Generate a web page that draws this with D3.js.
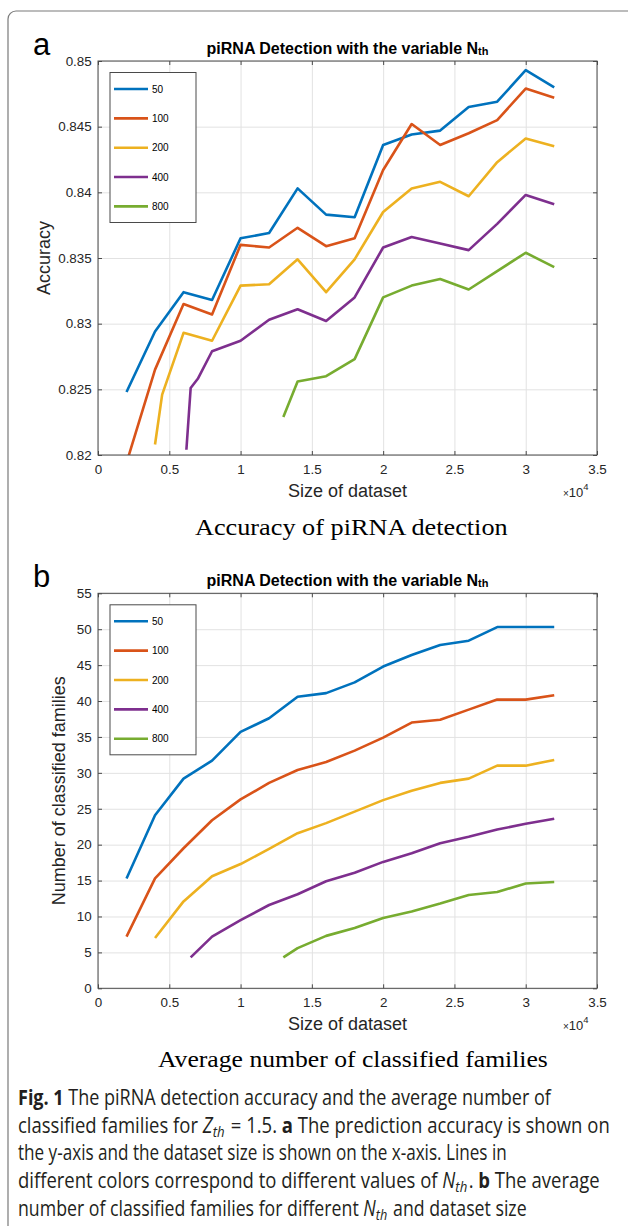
<!DOCTYPE html>
<html>
<head>
<meta charset="utf-8">
<script src="https://cdn.jsdelivr.net/npm/d3@7"></script>
<style>
  body { margin: 0; background: #fff; }
  svg { display: block; }
</style>
</head>
<body>
<svg id="fig" width="628" height="1226"></svg>
<script>
// ---- dados ----
var legendas = ["50", "100", "200", "400", "800"];
var cores = ["#0072BD", "#D95319", "#EDB120", "#7E2F8E", "#77AC30"];

var xTicks = [0, 0.5, 1, 1.5, 2, 2.5, 3, 3.5];
var xTickLabels = ["0", "0.5", "1", "1.5", "2", "2.5", "3", "3.5"];

// painel a: acuracia
var accTicks = [0.82, 0.825, 0.83, 0.835, 0.84, 0.845, 0.85];
var accTickLabels = ["0.82", "0.825", "0.83", "0.835", "0.84", "0.845", "0.85"];
var accX50 = [0.2, 0.4, 0.6, 0.8, 1.0, 1.2, 1.4, 1.6, 1.8, 2.0, 2.2, 2.4, 2.6, 2.8, 3.0, 3.2];
var acc50 = [0.8248, 0.8294, 0.8324, 0.8318, 0.8365, 0.8369, 0.8403, 0.8383, 0.8381, 0.8436, 0.8444, 0.8447, 0.8465, 0.8469, 0.8493, 0.8480];
var accX100 = [0.2, 0.4, 0.6, 0.8, 1.0, 1.2, 1.4, 1.6, 1.8, 2.0, 2.2, 2.4, 2.6, 2.8, 3.0, 3.2];
var acc100 = [0.8194, 0.8265, 0.8315, 0.8307, 0.8360, 0.8358, 0.8373, 0.8359, 0.8365, 0.8417, 0.8452, 0.8436, 0.8445, 0.8455, 0.8479, 0.8472];
var accX200 = [0.4, 0.45, 0.6, 0.8, 1.0, 1.2, 1.4, 1.6, 1.8, 2.0, 2.2, 2.4, 2.6, 2.8, 3.0, 3.2];
var acc200 = [0.8208, 0.8246, 0.8293, 0.8287, 0.8329, 0.8330, 0.8349, 0.8324, 0.8349, 0.8385, 0.8403, 0.8408, 0.8397, 0.8423, 0.8441, 0.8435];
var accX400 = [0.62, 0.65, 0.7, 0.8, 1.0, 1.2, 1.4, 1.6, 1.8, 2.0, 2.2, 2.4, 2.6, 2.8, 3.0, 3.2];
var acc400 = [0.8204, 0.8251, 0.8258, 0.8279, 0.8287, 0.8303, 0.8311, 0.8302, 0.8320, 0.8358, 0.8366, 0.8361, 0.8356, 0.8376, 0.8398, 0.8391];
var accX800 = [1.3, 1.4, 1.6, 1.8, 2.0, 2.2, 2.4, 2.6, 2.8, 3.0, 3.2];
var acc800 = [0.8229, 0.8256, 0.8260, 0.8273, 0.8320, 0.8329, 0.8334, 0.8326, 0.8340, 0.8354, 0.8343];

// painel b: familias classificadas
var famTicks = [0, 5, 10, 15, 20, 25, 30, 35, 40, 45, 50, 55];
var famTickLabels = ["0", "5", "10", "15", "20", "25", "30", "35", "40", "45", "50", "55"];
var famX50 = [0.2, 0.4, 0.6, 0.8, 1.0, 1.2, 1.4, 1.6, 1.8, 2.0, 2.2, 2.4, 2.6, 2.8, 3.0, 3.2];
var fam50 = [15.3, 24.1, 29.2, 31.7, 35.7, 37.6, 40.6, 41.1, 42.6, 44.8, 46.4, 47.8, 48.4, 50.3, 50.3, 50.3];
var famX100 = [0.2, 0.4, 0.6, 0.8, 1.0, 1.2, 1.4, 1.6, 1.8, 2.0, 2.2, 2.4, 2.6, 2.8, 3.0, 3.2];
var fam100 = [7.2, 15.3, 19.5, 23.4, 26.3, 28.6, 30.4, 31.5, 33.1, 34.9, 37.0, 37.4, 38.8, 40.2, 40.2, 40.8];
var famX200 = [0.4, 0.6, 0.8, 1.0, 1.2, 1.4, 1.6, 1.8, 2.0, 2.2, 2.4, 2.6, 2.8, 3.0, 3.2];
var fam200 = [7.0, 12.1, 15.6, 17.3, 19.4, 21.6, 23.0, 24.6, 26.2, 27.5, 28.6, 29.2, 31.0, 31.0, 31.8];
var famX400 = [0.65, 0.8, 1.0, 1.2, 1.4, 1.6, 1.8, 2.0, 2.2, 2.4, 2.6, 2.8, 3.0, 3.2];
var fam400 = [4.3, 7.2, 9.5, 11.6, 13.1, 14.9, 16.1, 17.6, 18.8, 20.2, 21.1, 22.1, 22.9, 23.6];
var famX800 = [1.3, 1.4, 1.6, 1.8, 2.0, 2.2, 2.4, 2.6, 2.8, 3.0, 3.2];
var fam800 = [4.3, 5.6, 7.3, 8.4, 9.8, 10.7, 11.8, 13.0, 13.4, 14.6, 14.8];

var svg = d3.select("#fig");
var fonte = "'Liberation Sans', Arial, Helvetica, sans-serif";
var corEixo = "#4a4a4a";
var corTexto = "#262626";

// moldura da figura
svg.append("path")
  .attr("d", "M8,1232 V19 A8,8 0 0 1 16,11 H640")
  .attr("fill", "none").attr("stroke", "#7a7a7a").attr("stroke-width", 1.2);

// estica um texto na horizontal ate a largura pedida
function ajustarLargura(sel, x, y, largura) {
  var w = sel.node().getBBox().width;
  var k = largura / w;
  sel.attr("x", 0).attr("y", 0)
    .attr("transform", "translate(" + x + "," + y + ") scale(" + k + ",1)");
}

function painel(cfg) {
  var esq = 98, dir = 597;
  var x = d3.scaleLinear().domain([0, 3.5]).range([esq, dir]);
  var y = d3.scaleLinear().domain([cfg.yTicks[0], cfg.yTicks[cfg.yTicks.length - 1]]).range([cfg.baixo, cfg.topo]);
  var alt = cfg.baixo - cfg.topo;
  var g = svg.append("g");

  // grade
  g.append("g").attr("transform", "translate(0," + cfg.baixo + ")")
    .call(d3.axisBottom(x).tickValues(xTicks).tickSize(-alt).tickFormat(""))
    .call(function(s) { s.select(".domain").remove(); })
    .selectAll("line").attr("stroke", "#e2e2e2").attr("stroke-width", 1);
  g.append("g").attr("transform", "translate(" + esq + ",0)")
    .call(d3.axisLeft(y).tickValues(cfg.yTicks).tickSize(-(dir - esq)).tickFormat(""))
    .call(function(s) { s.select(".domain").remove(); })
    .selectAll("line").attr("stroke", "#e2e2e2").attr("stroke-width", 1);

  // linhas
  var clipId = "clip" + cfg.id;
  svg.append("clipPath").attr("id", clipId).append("rect")
    .attr("x", esq).attr("y", cfg.topo).attr("width", dir - esq).attr("height", alt);
  var linha = d3.line().x(function(d) { return x(d[0]); }).y(function(d) { return y(d[1]); });
  cfg.series.forEach(function(s, i) {
    g.append("path")
      .datum(d3.zip(s[0], s[1]))
      .attr("clip-path", "url(#" + clipId + ")")
      .attr("d", linha)
      .attr("fill", "none")
      .attr("stroke", cores[i])
      .attr("stroke-width", 2.6)
      .attr("stroke-linejoin", "round");
  });

  // caixa
  g.append("rect").attr("x", esq).attr("y", cfg.topo).attr("width", dir - esq).attr("height", alt)
    .attr("fill", "none").attr("stroke", corEixo).attr("stroke-width", 1);

  // eixos (ticks para dentro)
  var eixoX = g.append("g").attr("transform", "translate(0," + cfg.baixo + ")")
    .call(d3.axisBottom(x).tickValues(xTicks).tickSize(-4).tickPadding(9.5)
      .tickFormat(function(d, i) { return xTickLabels[i]; }));
  var eixoXTopo = g.append("g").attr("transform", "translate(0," + cfg.topo + ")")
    .call(d3.axisTop(x).tickValues(xTicks).tickSize(-4).tickFormat(""));
  var eixoY = g.append("g").attr("transform", "translate(" + esq + ",0)")
    .call(d3.axisLeft(y).tickValues(cfg.yTicks).tickSize(-4).tickPadding(6.3)
      .tickFormat(function(d, i) { return cfg.yTickLabels[i]; }));
  var eixoYDir = g.append("g").attr("transform", "translate(" + dir + ",0)")
    .call(d3.axisRight(y).tickValues(cfg.yTicks).tickSize(-4).tickFormat(""));
  [eixoX, eixoXTopo, eixoY, eixoYDir].forEach(function(e) {
    e.select(".domain").remove();
    e.selectAll("line").attr("stroke", corEixo);
    e.selectAll("text").attr("font-family", fonte).attr("font-size", 13.4).attr("fill", corTexto);
  });

  // titulo
  var t = g.append("text").attr("x", (esq + dir) / 2).attr("y", cfg.topo - 7.5)
    .attr("text-anchor", "middle").attr("font-family", fonte).attr("font-weight", "bold")
    .attr("font-size", 16).attr("fill", "#000");
  t.append("tspan").text("piRNA Detection with the variable N");
  t.append("tspan").attr("font-size", 11).attr("dy", 1).text("th");

  // rotulo do painel
  g.append("text").attr("x", 33).attr("y", cfg.topo - 6).attr("font-family", fonte)
    .attr("font-size", 31).attr("fill", "#000").text(cfg.letra);

  // rotulos dos eixos
  g.append("text").attr("x", (esq + dir) / 2).attr("y", cfg.baixo + 42)
    .attr("text-anchor", "middle").attr("font-family", fonte).attr("font-size", 18)
    .attr("fill", corTexto).text("Size of dataset");
  g.append("text").attr("transform", "translate(" + cfg.yLabelX + "," + (cfg.topo + alt / 2) + ") rotate(-90)")
    .attr("text-anchor", "middle").attr("font-family", fonte).attr("font-size", 18)
    .attr("fill", corTexto).text(cfg.yLabel);
  var m = g.append("text").attr("x", 563).attr("y", cfg.baixo + 41.5)
    .attr("font-family", fonte).attr("fill", corTexto);
  m.append("tspan").attr("font-size", 10).text("\u00d7");
  m.append("tspan").attr("font-size", 13).text("10");
  m.append("tspan").attr("font-size", 9.5).attr("dy", -7).text("4");

  // subtitulo em serifa
  var sub = g.append("text")
    .attr("font-family", "'Liberation Serif', 'DejaVu Serif', serif").attr("font-size", 23.5)
    .attr("fill", "#000").text(cfg.subtitulo);
  ajustarLargura(sub, cfg.subX, cfg.baixo + cfg.subDy, cfg.subW);

  // legenda
  var lt = cfg.topo + 11.5;
  var leg = g.append("g");
  leg.append("rect").attr("x", 110).attr("y", lt).attr("width", 86).attr("height", 150)
    .attr("fill", "#fff").attr("stroke", corEixo).attr("stroke-width", 1);
  legendas.forEach(function(nome, i) {
    var yy = lt + 16.5 + i * 29.35;
    leg.append("line").attr("x1", 114).attr("x2", 148).attr("y1", yy).attr("y2", yy)
      .attr("stroke", cores[i]).attr("stroke-width", 2.6);
    leg.append("text").attr("x", 152).attr("y", yy).attr("dy", "0.35em")
      .attr("font-family", fonte).attr("font-size", 10).attr("fill", "#000").text(nome);
  });
}

painel({
  id: "a", letra: "a", topo: 61, baixo: 455,
  yTicks: accTicks, yTickLabels: accTickLabels,
  yLabel: "Accuracy", yLabelX: 50,
  subtitulo: "Accuracy of piRNA detection", subX: 195, subW: 313, subDy: 80,
  series: [[accX50, acc50], [accX100, acc100], [accX200, acc200], [accX400, acc400], [accX800, acc800]]
});

painel({
  id: "b", letra: "b", topo: 593.3, baixo: 988.3,
  yTicks: famTicks, yTickLabels: famTickLabels,
  yLabel: "Number of classified families", yLabelX: 65,
  subtitulo: "Average number of classified families", subX: 158, subW: 390, subDy: 79,
  series: [[famX50, fam50], [famX100, fam100], [famX200, fam200], [famX400, fam400], [famX800, fam800]]
});

// legenda da figura
var capFonte = "'Open Sans', 'Noto Sans', sans-serif";
var linhasCap = [
  { y: 1105, w: 535, partes: [["b", "Fig. 1"], ["n", " The piRNA detection accuracy and the average number of"]] },
  { y: 1132.7, w: 592, partes: [["n", "classified families for "], ["i", "Z"], ["s", "th"], ["n", " = 1.5. "], ["b", "a"], ["n", " The prediction accuracy is shown on"]] },
  { y: 1160.4, w: 489, partes: [["n", "the y-axis and the dataset size is shown on the x-axis. Lines in"]] },
  { y: 1188.1, w: 582, partes: [["n", "different colors correspond to different values of "], ["i", "N"], ["s", "th"], ["n", ". "], ["b", "b"], ["n", " The average"]] },
  { y: 1215.8, w: 509, partes: [["n", "number of classified families for different "], ["i", "N"], ["s", "th"], ["n", " and dataset size"]] }
];
linhasCap.forEach(function(l) {
  var t = svg.append("text")
    .attr("font-family", capFonte).attr("font-size", 21).attr("fill", "#231f20");
  var sub = false;
  l.partes.forEach(function(p) {
    var ts = t.append("tspan").text(p[1]);
    if (p[0] == "b") ts.attr("font-weight", "bold");
    if (p[0] == "i") ts.attr("font-style", "italic");
    if (p[0] == "s") { ts.attr("font-style", "italic").attr("font-size", 15).attr("dy", 4); sub = true; }
    else if (sub) { ts.attr("dy", -4).attr("dx", 1.5); sub = false; }
  });
  ajustarLargura(t, 18, l.y, l.w);
});
</script>
</body>
</html>
